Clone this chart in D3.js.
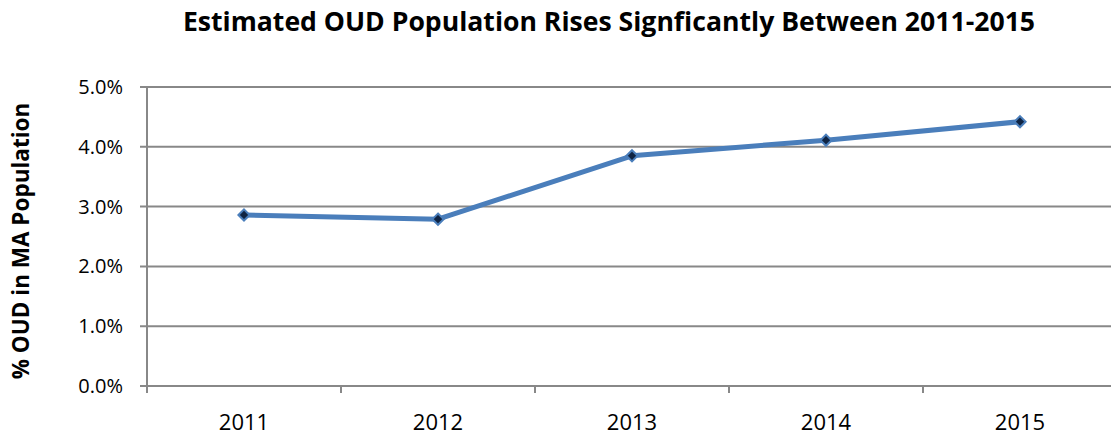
<!DOCTYPE html>
<html><head><meta charset="utf-8">
<script src="https://cdn.jsdelivr.net/npm/d3@7"></script>
<style>body{margin:0;background:#fff;}svg{display:block;}</style>
</head><body>
<svg id="c" width="1111" height="435"></svg>
<script>
const categories = ["2011","2012","2013","2014","2015"];
const values = [2.86, 2.79, 3.85, 4.11, 4.42];
const yTicks = [0,1,2,3,4,5];
const title = "Estimated OUD Population Rises Signficantly Between 2011-2015";
const yTitle = "% OUD in MA Population";

const svg = d3.select("#c");
const font = "'Open Sans', 'Liberation Sans', sans-serif";
const L = 147, R = 1117, T = 87, B = 386;
const x = d3.scaleBand().domain(categories).range([L, R]);
const y = d3.scaleLinear().domain([0,5]).range([B, T]);

// gridlines
svg.append("g").selectAll("line").data(yTicks).join("line")
  .attr("x1", L - 7).attr("x2", 1111)
  .attr("y1", d => y(d)).attr("y2", d => y(d))
  .attr("stroke", "#888").attr("stroke-width", 2);
// y axis line
svg.append("line").attr("x1", L).attr("x2", L).attr("y1", T).attr("y2", B + 7)
  .attr("stroke", "#888").attr("stroke-width", 2);
// x ticks
svg.append("g").selectAll("line").data(categories.slice(1)).join("line")
  .attr("x1", d => x(d)).attr("x2", d => x(d)).attr("y1", B).attr("y2", B + 7)
  .attr("stroke", "#888").attr("stroke-width", 2);
// y tick labels
svg.append("g").selectAll("text").data(yTicks).join("text")
  .attr("x", L - 24).attr("y", d => y(d)).attr("dy", "0.35em")
  .attr("text-anchor", "end").attr("font-family", font).attr("font-size", 20)
  .attr("fill", "#000").text(d => d.toFixed(1) + "%");
// x labels
svg.append("g").selectAll("text").data(categories).join("text")
  .attr("x", d => x(d) + x.bandwidth()/2).attr("y", 430)
  .attr("text-anchor", "middle").attr("font-family", font).attr("font-size", 22)
  .attr("fill", "#000").text(d => d);
// line
const line = d3.line().x((d,i) => x(categories[i]) + x.bandwidth()/2).y(d => y(d));
svg.append("path").datum(values).attr("d", line).attr("fill", "none")
  .attr("stroke", "#4A7EBB").attr("stroke-width", 5).attr("stroke-linejoin", "round");
// markers
const sym = d3.symbol().type(d3.symbolDiamond2).size(80);
svg.append("g").selectAll("path").data(values).join("path")
  .attr("transform", (d,i) => `translate(${x(categories[i]) + x.bandwidth()/2},${y(d)})`)
  .attr("d", sym).attr("fill", "#0F2443").attr("stroke", "#4A7EBB").attr("stroke-width", 2);
// title
svg.append("text").attr("x", 609).attr("y", 31).attr("text-anchor", "middle")
  .attr("font-family", font).attr("font-weight", "bold").attr("font-size", 26.6)
  .attr("fill", "#000").text(title);
// y title
svg.append("text").attr("transform", "translate(29,241) rotate(-90)")
  .attr("text-anchor", "middle").attr("font-family", font).attr("font-weight", "bold")
  .attr("font-size", 22.5).attr("fill", "#000").text(yTitle);
</script>
</body></html>
